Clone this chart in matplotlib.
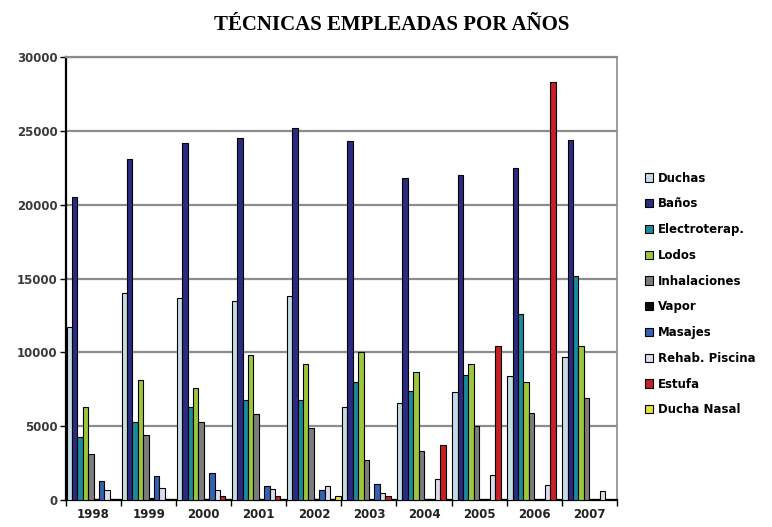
import matplotlib.pyplot as plt
import numpy as np

years = ["1998", "1999", "2000", "2001", "2002", "2003", "2004", "2005", "2006", "2007"]

series_names = ["Duchas", "Baños", "Electroterap.", "Lodos", "Inhalaciones",
                "Vapor", "Masajes", "Rehab. Piscina", "Estufa", "Ducha Nasal"]

duchas = [11700, 14000, 13700, 13500, 13800, 6300, 6600, 7300, 8400, 9700]
banos = [20500, 23100, 24200, 24500, 25200, 24300, 21800, 22000, 22500, 24400]
electroterap = [4300, 5300, 6300, 6800, 6800, 8000, 7400, 8500, 12600, 15200]
lodos = [6300, 8100, 7600, 9800, 9200, 10000, 8700, 9200, 8000, 10400]
inhalaciones = [3100, 4400, 5300, 5800, 4900, 2700, 3300, 5000, 5900, 6900]
vapor = [100, 150, 100, 100, 100, 0, 0, 0, 0, 0]
masajes = [1300, 1600, 1800, 950, 700, 1100, 0, 0, 0, 0]
rehab_piscina = [700, 800, 650, 720, 950, 450, 1450, 1700, 1000, 600]
estufa = [0, 100, 300, 300, 0, 300, 3700, 10400, 28300, 0]
ducha_nasal = [0, 0, 0, 0, 250, 0, 0, 0, 0, 0]

all_series = [duchas, banos, electroterap, lodos, inhalaciones,
              vapor, masajes, rehab_piscina, estufa, ducha_nasal]

colors = ["#c4dde4", "#2b2b82", "#1a8a9c", "#9cc63c", "#7c7c7c",
          "#0a0a0a", "#3462b0", "#dcdcf0", "#c42026", "#e6df3a"]

fig = plt.figure(figsize=(7.72, 5.27), dpi=100)
ax = fig.add_axes([0.0855, 0.0512, 0.7135, 0.8406])

x = np.arange(len(years))
n = len(all_series)
w = 0.098
for j, (vals, col, name) in enumerate(zip(all_series, colors, series_names)):
    # zero values are not drawn at all in the original
    heights = np.array(vals, dtype=float)
    heights[heights == 0] = np.nan
    ax.bar(x + (j - (n - 1) / 2) * w, heights, width=w, color=col,
           edgecolor="black", linewidth=0.8, label=name, zorder=3)

ax.set_xlim(-0.5, len(years) - 0.5)
ax.set_ylim(0, 30000)
ax.set_yticks(np.arange(0, 30001, 5000))
ax.set_yticklabels([str(v) for v in range(0, 30001, 5000)],
                   fontsize=8.5, fontweight="bold", color="#3a3a3a")
ax.set_xticks(x)
ax.set_xticklabels(years, fontsize=8.5, fontweight="bold", color="#222222")
ax.set_xticks(np.arange(-0.5, len(years), 1), minor=True)
ax.tick_params(axis="x", which="major", length=0, pad=6)
ax.tick_params(axis="x", which="minor", length=4, width=1, direction="out")
ax.tick_params(axis="y", length=4, width=1, direction="out", pad=2)

ax.yaxis.grid(True, color="#8c8c8c", linewidth=1.6, zorder=0)
ax.set_axisbelow(True)
ax.spines["left"].set_linewidth(1.6)
ax.spines["bottom"].set_linewidth(1.6)
ax.spines["top"].set_color("#8c8c8c")
ax.spines["top"].set_linewidth(1.6)
ax.spines["right"].set_color("#8c8c8c")
ax.spines["right"].set_linewidth(1.2)

fig.text(0.508, 0.952, "TÉCNICAS EMPLEADAS POR AÑOS", ha="center", va="center",
         fontsize=15, fontweight="bold", family="Liberation Serif")

leg = fig.legend(loc="center left", bbox_to_anchor=(0.822, 0.442), frameon=False,
                 prop={"size": 8.5, "weight": "bold"}, handlelength=0.7,
                 handleheight=0.7, handletextpad=0.4, labelspacing=1.08)

fig.savefig("out.png", dpi=100)
